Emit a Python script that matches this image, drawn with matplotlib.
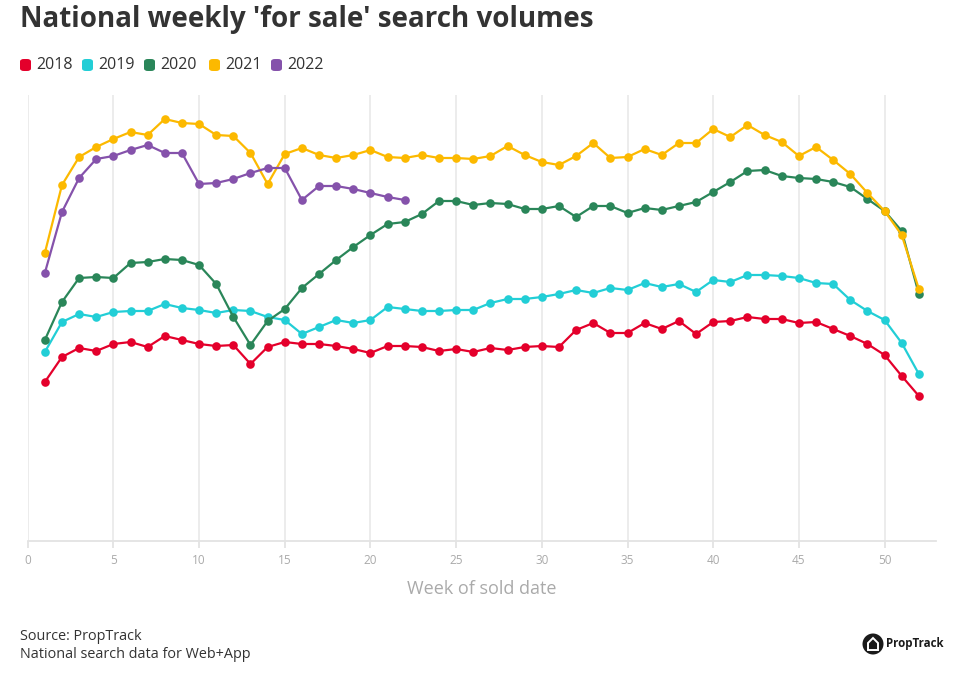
import matplotlib
matplotlib.use("Agg")
import matplotlib.pyplot as plt
from matplotlib.patches import FancyBboxPatch, Circle, Polygon

weeks = list(range(1, 53))

# Values: relative search volume index (arbitrary units)
y2018 = [159, 184, 193, 190, 197, 199, 194, 205, 201, 197, 195, 196, 177, 194, 199, 197,
         197, 195, 192, 188, 195, 195, 194, 190, 192, 189, 193, 191, 194, 195, 194, 211,
         218, 208, 208, 218, 212, 220, 207, 219, 220, 224, 222, 222, 218, 219, 212, 205,
         197, 186, 165, 145]
y2019 = [189, 219, 227, 224, 229, 230, 230, 237, 233, 231, 228, 231, 230, 224, 221, 207,
         214, 221, 218, 221, 234, 232, 230, 230, 231, 231, 238, 242, 242, 244, 247, 251,
         248, 253, 251, 258, 254, 257, 249, 261, 259, 266, 266, 265, 263, 258, 257, 241,
         230, 221, 198, 167]
y2020 = [201, 239, 263, 264, 263, 278, 279, 282, 281, 276, 257, 224, 196, 220, 232, 253,
         267, 281, 294, 306, 317, 319, 327, 340, 340, 336, 338, 337, 332, 332, 335, 324,
         335, 335, 328, 333, 331, 335, 339, 349, 359, 370, 371, 365, 363, 362, 359, 354,
         342, 330, 310, 247]
y2021 = [288, 356, 384, 394, 402, 409, 406, 422, 418, 417, 406, 405, 388, 357, 387, 393,
         386, 383, 386, 391, 384, 383, 386, 383, 383, 382, 385, 395, 386, 379, 376, 385,
         398, 383, 384, 392, 386, 398, 398, 412, 404, 416, 406, 399, 385, 394, 381, 367,
         348, 330, 306, 252]
y2022 = [268, 329, 363, 382, 385, 391, 396, 388, 388, 357, 358, 362, 368, 373, 373, 341,
         355, 355, 352, 348, 344, 341]

series = [("2018", y2018, "#E4002B"),
          ("2019", y2019, "#22CED6"),
          ("2020", y2020, "#2A8659"),
          ("2021", y2021, "#FCB900"),
          ("2022", y2022, "#8552AB")]

x_ticks = [0, 5, 10, 15, 20, 25, 30, 35, 40, 45, 50]

W, H = 960, 673
fig = plt.figure(figsize=(W / 100, H / 100), dpi=100)
plt.rcParams['font.family'] = ['Open Sans', 'DejaVu Sans']

ax = fig.add_axes([27.7 / W, 1 - 541 / H, (936 - 27.7) / W, (541 - 95) / H])
for name, vals, col in series:
    ax.plot(weeks[:len(vals)], vals, color=col, lw=1.6, marker='o', ms=6.2,
            markeredgewidth=0, zorder=3)

ax.set_xlim(0, 53)
ax.set_ylim(0, 446)
ax.set_xticks(x_ticks)
ax.set_yticks([])
for xv in x_ticks:
    ax.axvline(xv, color='#EBEBEB', lw=1.3, zorder=0)
for s in ['top', 'right', 'left']:
    ax.spines[s].set_visible(False)
ax.spines['bottom'].set_color('#E3E3E3')
ax.spines['bottom'].set_linewidth(1.3)
ax.tick_params(axis='x', colors='#E0E0E0', length=5, width=1.2, labelsize=8.5,
               labelcolor='#AAAAAA', pad=4)
ax.set_xlabel("Week of sold date", fontsize=13, color='#AAAAAA', labelpad=10)

# Title
fig.text(20 / W, 1 - 20 / H, "National weekly 'for sale' search volumes", fontsize=20,
         fontweight='bold', color='#333333', va='center', ha='left')

# Legend
leg_x = [20, 82, 144, 209, 271]
for (name, vals, col), lx in zip(series, leg_x):
    p = FancyBboxPatch((lx / W, 1 - 71 / H), 11 / W, 12 / H,
                       boxstyle="round,pad=0,rounding_size=0.004",
                       transform=fig.transFigure, facecolor=col, edgecolor='none')
    fig.patches.append(p)
    fig.text((lx + 16) / W, 1 - 65 / H, name, fontsize=11.5, color='#333333',
             va='center', ha='left')

# Source
fig.text(20 / W, 1 - 637 / H, "Source: PropTrack", fontsize=10.4, color='#333333',
         va='center', ha='left')
fig.text(20 / W, 1 - 655 / H, "National search data for Web+App", fontsize=10.4,
         color='#333333', va='center', ha='left')

# Logo
lax = fig.add_axes([862 / W, 1 - 655 / H, 22 / W, 22 / H])
lax.set_xlim(-11, 11)
lax.set_ylim(-11, 11)
lax.set_aspect('equal')
lax.axis('off')
lax.add_patch(Circle((0, 0), 10.5, facecolor='#1A1A1A', edgecolor='none'))
house = [(-5, -6), (-5, 1), (0, 6), (5, 1), (5, -6)]
lax.add_patch(Polygon(house, closed=True, facecolor='none', edgecolor='white', lw=1.4))
fig.text(886 / W, 1 - 644 / H, "PropTrack", fontsize=8.3, fontweight='bold',
         color='#1A1A1A', va='center', ha='left')

fig.savefig("out.png", dpi=100)
